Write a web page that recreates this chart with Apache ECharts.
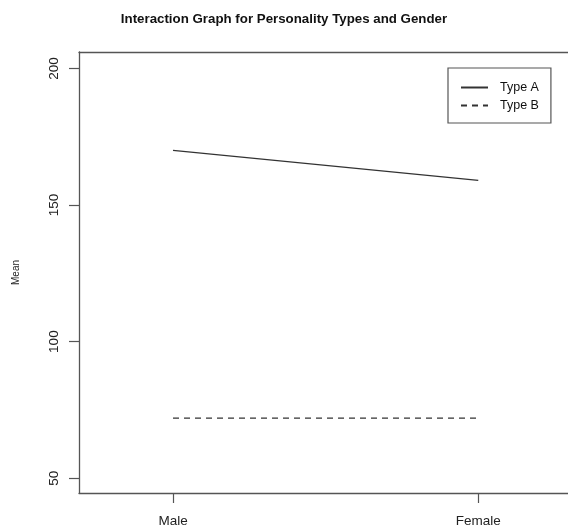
<!DOCTYPE html>
<html>
<head>
<meta charset="utf-8">
<script src="https://cdn.jsdelivr.net/npm/echarts@6/dist/echarts.min.js"></script>
<style>
html,body{margin:0;padding:0;background:#fff;}
#chart{width:568px;height:529px;}
</style>
</head>
<body>
<div id="chart"></div>
<script>
var categories = ['Male', 'Female'];
var seriesNames = ['Type A', 'Type B'];
var typeA = [170, 159];
var typeB = [72, 72];
var yTicks = [50, 100, 150, 200];
var title = 'Interaction Graph for Personality Types and Gender';

var FONT = '"Liberation Sans", Arial, Helvetica, sans-serif';
var xPos = categories.map(function (c, i) { return i + 1; });
function pts(vals) { return vals.map(function (v, i) { return [xPos[i], v]; }); }

var AXIS_COLOR = '#555';
var chart = echarts.init(document.getElementById('chart'), null, {renderer: 'canvas'});
chart.setOption({
  animation: false,
  backgroundColor: '#fff',
  title: {
    text: title,
    left: 'center',
    top: 8,
    textStyle: {fontFamily: FONT, fontSize: 13.3, fontWeight: 'bold', color: '#111'}
  },
  grid: {
    left: 79, top: 52, bottom: 36, right: 0,
    show: false,
    outerBoundsMode: 'none',
    containLabel: false
  },
  legend: {
    data: seriesNames,
    orient: 'vertical',
    left: 448, top: 68,
    padding: [13, 12, 11, 12],
    itemWidth: 27, itemHeight: 10, itemGap: 5,
    borderColor: '#555', borderWidth: 1.2, borderRadius: 0,
    backgroundColor: '#fff',
    itemStyle: {color: 'transparent', borderWidth: 0, opacity: 0},
    textStyle: {fontFamily: FONT, fontSize: 12.5, color: '#111', padding: [0, 0, 0, 7]}
  },
  xAxis: [{
    type: 'value',
    min: 0.692, max: 2.294,
    axisLine: {show: true, onZero: false, lineStyle: {color: AXIS_COLOR, width: 1.3}},
    axisTick: {show: true, length: 10, customValues: xPos, lineStyle: {color: AXIS_COLOR, width: 1.2}},
    axisLabel: {
      customValues: xPos, margin: 21,
      fontFamily: FONT, fontSize: 13.5, color: '#222',
      formatter: function (v) { return categories[Math.round(v) - 1] || ''; }
    },
    splitLine: {show: false}
  }, {
    type: 'value',
    position: 'top',
    min: 0.692, max: 2.294,
    axisLine: {show: true, onZero: false, lineStyle: {color: AXIS_COLOR, width: 1.3}},
    axisTick: {show: false},
    axisLabel: {show: false},
    splitLine: {show: false}
  }],
  yAxis: {
    type: 'value',
    min: 44.6, max: 206,
    name: 'Mean',
    nameLocation: 'middle',
    nameRotate: 90,
    nameGap: 58,
    nameTextStyle: {fontFamily: FONT, fontSize: 10, color: '#222'},
    axisLine: {show: true, onZero: false, lineStyle: {color: AXIS_COLOR, width: 1.3}},
    axisTick: {show: true, length: 10, customValues: yTicks, lineStyle: {color: AXIS_COLOR, width: 1.2}},
    axisLabel: {
      customValues: yTicks, rotate: 90, margin: 18,
      fontFamily: FONT, fontSize: 13.5, color: '#222'
    },
    splitLine: {show: false}
  },
  series: [
    {
      name: seriesNames[0], type: 'line', data: pts(typeA),
      symbol: 'none', lineStyle: {color: '#333', width: 1.3, type: 'solid'},
      itemStyle: {color: '#333'}
    },
    {
      name: seriesNames[1], type: 'line', data: pts(typeB),
      symbol: 'none', lineStyle: {color: '#333', width: 1.3, type: [6, 5]},
      itemStyle: {color: '#333'}
    }
  ]
});
</script>
</body>
</html>
